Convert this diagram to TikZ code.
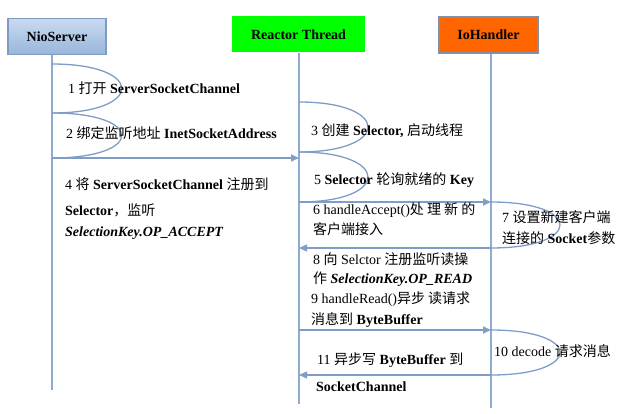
\documentclass[tikz,border=0pt]{standalone}
\usepackage{fontspec}
\setmainfont{Liberation Serif}
\newfontfamily\cjk{Noto Sans CJK SC}
\newcommand{\zh}[1]{{\cjk #1}}
\usetikzlibrary{arrows.meta}
\definecolor{lifeblue}{HTML}{8EAAD0}
\definecolor{msgblue}{HTML}{7F9DC6}
\definecolor{niotop}{HTML}{C9DBF1}
\definecolor{niobot}{HTML}{98B5DA}
\definecolor{nioline}{HTML}{7E9CC3}
\definecolor{reactgreen}{HTML}{00FF00}
\definecolor{ioorange}{HTML}{FF6600}
\definecolor{ioline}{HTML}{7F90A8}
\tikzset{
  actor/.style={minimum height=36pt, inner sep=0pt, font=\bfseries\fontsize{14}{16}\selectfont},
  lifeline/.style={draw=lifeblue, line width=1.2pt},
  msg/.style={draw=msgblue, line width=1.3pt, -{Triangle[length=8pt,width=7pt]}},
  selfloop/.style={draw=msgblue, line width=1.3pt},
  note/.style={anchor=west, inner sep=0pt, font=\fontsize{14}{16}\selectfont}
}
\begin{document}
\begin{tikzpicture}[x=1pt,y=-1pt]
\useasboundingbox (0,0) rectangle (638,414);
% actors
\node[actor, minimum width=98pt, draw=nioline, line width=1.5pt, top color=niotop, bottom color=niobot] (nio) at (57,36.5) {NioServer};
\node[actor, minimum width=133pt, fill=reactgreen] (reactor) at (298.5,34.5) {Reactor Thread};
\node[actor, minimum width=99pt, fill=ioorange, draw=ioline, line width=2pt] (io) at (488.5,35) {IoHandler};
% lifelines
\coordinate (nioEnd) at (52,390);
\coordinate (reactorEnd) at (299,404);
\coordinate (ioEnd) at (491,408);
\draw[lifeline] (nio.south -| nioEnd) -- (nioEnd);
\draw[lifeline] (reactor.south -| reactorEnd) -- (reactorEnd);
\draw[lifeline] (io.south -| ioEnd) -- (ioEnd);
% points on the lifelines
\coordinate (n1) at (52,64);
\coordinate (n2) at (52,113);
\coordinate (n3) at (52,158);
\coordinate (r1) at (299,102);
\coordinate (r2) at (299,152);
\coordinate (r3) at (299,202);
\coordinate (r4) at (299,248);
\coordinate (r5) at (299,330);
\coordinate (r6) at (299,375);
\coordinate (rin) at (299,158);
\coordinate (i1) at (491,202);
\coordinate (i2) at (491,248);
\coordinate (i3) at (491,330);
\coordinate (i4) at (491,375);
% self calls
\draw[selfloop] (n1) .. controls +(93,0) and +(93,0) .. (n2);
\draw[selfloop] (n2) .. controls +(93,0) and +(93,0) .. (n3);
\draw[selfloop] (r1) .. controls +(92,0) and +(92,0) .. (r2);
\draw[selfloop] (r2) .. controls +(92,0) and +(92,0) .. (r3);
\draw[selfloop] (i1) .. controls +(92,0) and +(92,0) .. (i2);
\draw[selfloop] (i3) .. controls +(92,0) and +(92,0) .. (i4);
% messages
\draw[msg] (n3) -- (rin);
\draw[msg] (r3) -- (i1);
\draw[msg] (i2) -- (r4);
\draw[msg] (r5) -- (i3);
\draw[msg] (i4) -- (r6);
% labels
\node[note] (t1) at (68,88) {1 \zh{打开} \textbf{ServerSocketChannel}};
\node[note] (t2) at (66,133) {2 \zh{绑定监听地址} \textbf{InetSocketAddress}};
\node[note] (t3) at (311,131) {3 \zh{创建} \textbf{Selector,} \zh{启动线程}};
\node[note] (t4a) at (65,184) {4 \zh{将} \textbf{ServerSocketChannel} \zh{注册到}};
\node[note] (t4b) at (65,210) {\textbf{Selector}\zh{，监听}};
\node[note] (t4c) at (65,233) {\textbf{\itshape SelectionKey.OP\_ACCEPT}};
\node[note] (t5) at (314,180) {5 \textbf{Selector} \zh{轮询就绪的} \textbf{Key}};
\node[note] (t6a) at (313,210) {6 handleAccept()\zh{处 理 新 的}};
\node[note] (t6b) at (313,229) {\zh{客户端接入}};
\node[note] (t7a) at (502,217) {7 \zh{设置新建客户端}};
\node[note] (t7b) at (502,238) {\zh{连接的} \textbf{Socket}\zh{参数}};
\node[note] (t8a) at (313,259) {8 \zh{向} Selctor \zh{注册监听读操}};
\node[note] (t8b) at (313,279) {\zh{作} \textbf{\itshape SelectionKey.OP\_READ}};
\node[note] (t9a) at (311,299) {9 handleRead()\zh{异步 读请求}};
\node[note] (t9b) at (311,320) {\zh{消息到} \textbf{ByteBuffer}};
\node[note] (t10) at (494,351) {10 decode \zh{请求消息}};
\node[note] (t11a) at (317,360) {11 \zh{异步写} \textbf{ByteBuffer} \zh{到}};
\node[note] (t11b) at (316,387) {\textbf{SocketChannel}};
\end{tikzpicture}
\end{document}
